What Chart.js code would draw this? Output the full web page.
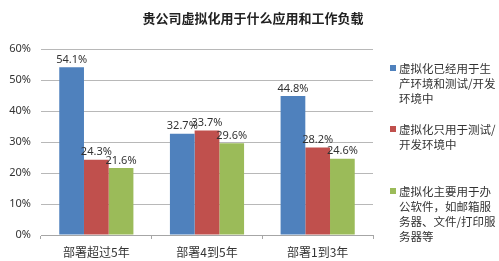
<!DOCTYPE html>
<html>
<head>
<meta charset="utf-8">
<script src="https://cdn.jsdelivr.net/npm/chart.js@4.4.0/dist/chart.umd.min.js"></script>
<style>
  html, body { margin: 0; padding: 0; background: #fff; }
  #wrap { position: relative; width: 499px; height: 261px; font-family: "Noto Sans CJK SC", sans-serif; }
  #title { position: absolute; left: 0; width: 506px; top: 8px; text-align: center; font-size: 13px; font-weight: bold; color: #222; }
  .leg { position: absolute; left: 390px; font-size: 11.5px; line-height: 15px; color: #333; }
  .leg .sw { position: absolute; left: 0; top: 4px; width: 6px; height: 6px; }
  .leg .tx { margin-left: 9px; }
</style>
</head>
<body>
<div id="wrap">
  <canvas id="chart" width="499" height="261"></canvas>
  <div id="title">贵公司虚拟化用于什么应用和工作负载</div>
  <div id="legend"></div>
</div>
<script>
// chart data
const categories = ['部署超过5年', '部署4到5年', '部署1到3年'];
const seriesNames = [
  ['虚拟化已经用于生', '产环境和测试/开发', '环境中'],
  ['虚拟化只用于测试/', '开发环境中'],
  ['虚拟化主要用于办', '公软件，如邮箱服', '务器、文件/打印服', '务器等']
];
const prodAndTest = [54.1, 32.7, 44.8];
const testOnly = [24.3, 33.7, 28.2];
const officeApps = [21.6, 29.6, 24.6];
const colors = ['#4f81bd', '#c0504d', '#9bbb59'];
const legendTops = [61, 122, 184];

const valueLabels = {
  id: 'valueLabels',
  afterDatasetsDraw(chart) {
    const ctx = chart.ctx;
    ctx.save();
    ctx.font = '11px "Noto Sans", sans-serif';
    ctx.fillStyle = '#333';
    ctx.textAlign = 'center';
    ctx.textBaseline = 'bottom';
    chart.data.datasets.forEach((ds, i) => {
      chart.getDatasetMeta(i).data.forEach((bar, j) => {
        ctx.fillText(ds.data[j].toFixed(1) + '%', bar.x, bar.y - 2);
      });
    });
    ctx.restore();
  }
};

new Chart(document.getElementById('chart'), {
  type: 'bar',
  data: {
    labels: categories,
    datasets: [prodAndTest, testOnly, officeApps].map((d, i) => ({
      label: seriesNames[i].join(''),
      data: d,
      backgroundColor: colors[i],
      barPercentage: 1,
      categoryPercentage: 0.67
    }))
  },
  options: {
    responsive: false,
    animation: false,
    layout: { padding: { left: 0, top: 49, right: 126, bottom: 0 } },
    plugins: { legend: { display: false }, tooltip: { enabled: false } },
    scales: {
      x: {
        afterFit: s => { s.height = 26; },
        grid: { drawOnChartArea: false, drawTicks: true, tickLength: 4, color: '#a6a6a6' },
        border: { color: '#a6a6a6' },
        ticks: { color: '#333', font: { size: 12, family: '"Noto Sans CJK SC", sans-serif' }, padding: 6 }
      },
      y: {
        min: 0,
        max: 60,
        afterFit: s => { s.width = 41; },
        border: { display: false },
        grid: { color: '#b8b8b8', drawTicks: false },
        ticks: {
          stepSize: 10,
          color: '#333',
          padding: 10,
          font: { size: 11, family: '"Noto Sans", sans-serif' },
          callback: v => v + '%'
        }
      }
    }
  },
  plugins: [valueLabels]
});

const legend = document.getElementById('legend');
seriesNames.forEach((lines, i) => {
  const el = document.createElement('div');
  el.className = 'leg';
  el.style.top = legendTops[i] + 'px';
  el.innerHTML = '<div class="sw" style="background:' + colors[i] + '"></div><div class="tx">' + lines.join('<br>') + '</div>';
  legend.appendChild(el);
});
</script>
</body>
</html>
